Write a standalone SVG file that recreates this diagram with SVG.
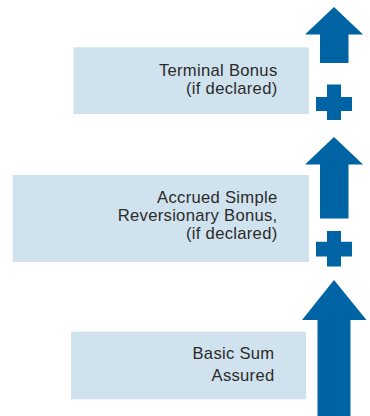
<svg xmlns="http://www.w3.org/2000/svg" width="370" height="416" viewBox="0 0 370 416">
  <style>
    .box { fill: #cfe2ed; }
    .label { font-family: "Liberation Sans", Arial, sans-serif; font-size: 16.6px; letter-spacing: 0.3px; fill: #2b2b2b; text-anchor: end; }
    .blue { fill: #0064a4; }
  </style>
  <rect width="370" height="416" fill="#ffffff"/>

  <!-- Benefit components -->
  <g id="terminal-bonus">
    <rect class="box" x="73.5" y="47.3" width="235.5" height="66.7"/>
    <text class="label" x="277.5" y="75.5">Terminal Bonus</text>
    <text class="label" x="277.5" y="93.5">(if declared)</text>
  </g>

  <g id="reversionary-bonus">
    <rect class="box" x="12.7" y="175" width="296.3" height="87"/>
    <text class="label" x="277.5" y="203">Accrued Simple</text>
    <text class="label" x="277.5" y="221">Reversionary Bonus,</text>
    <text class="label" x="277.5" y="239">(if declared)</text>
  </g>

  <g id="basic-sum-assured">
    <rect class="box" x="71" y="331.7" width="235" height="67.6"/>
    <text class="label" x="274.5" y="359">Basic Sum</text>
    <text class="label" x="274.5" y="380.7">Assured</text>
  </g>

  <!-- Upward arrows and plus signs -->
  <g id="connectors" class="blue">
    <polygon points="334,7 363,34.5 348.5,34.5 348.5,63 320,63 320,34.5 305,34.5"/>
    <polygon points="334,137 363,164.5 348.5,164.5 348.5,218.5 320,218.5 320,164.5 305,164.5"/>
    <polygon points="334,280 366.5,320 350.5,320 350.5,416 317.5,416 317.5,320 302,320"/>
    <path d="M327,84.5 H341 V97 H352 V111 H341 V120 H327 V111 H316 V97 H327 Z"/>
    <path d="M327,231 H341 V241.8 H352 V256.5 H341 V266.5 H327 V256.5 H316 V241.8 H327 Z"/>
  </g>
</svg>
